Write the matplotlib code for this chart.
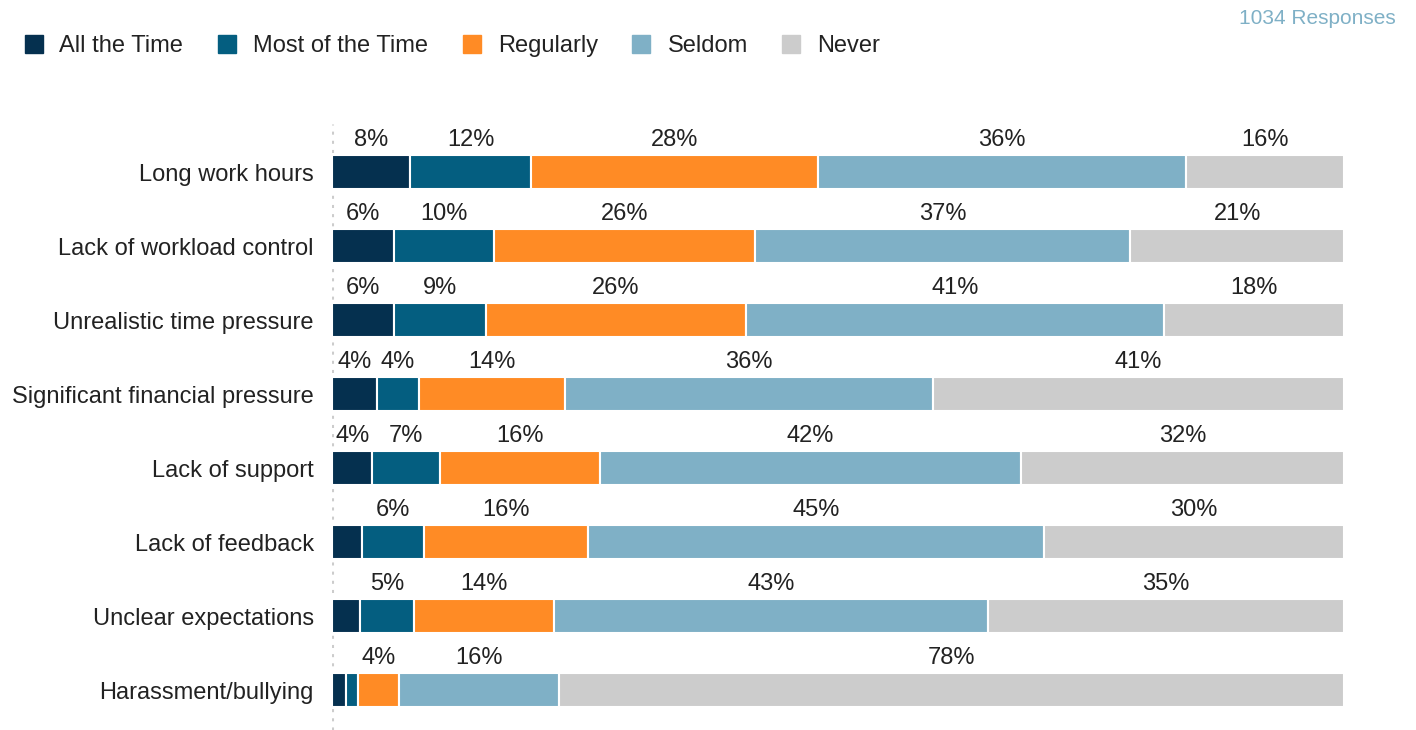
import numpy as np
import matplotlib.pyplot as plt
from matplotlib.lines import Line2D

plt.rcParams['font.family'] = ['Liberation Sans', 'DejaVu Sans']

categories = ['Long work hours', 'Lack of workload control', 'Unrealistic time pressure',
              'Significant financial pressure', 'Lack of support', 'Lack of feedback',
              'Unclear expectations', 'Harassment/bullying']
series = ['All the Time', 'Most of the Time', 'Regularly', 'Seldom', 'Never']
all_time = [7.7, 6.1, 6.1, 4.4, 4.0, 3.0, 2.8, 1.4]
most_time = [12.0, 9.9, 9.1, 4.2, 6.7, 6.1, 5.3, 1.2]
regularly = [28.3, 25.8, 25.7, 14.4, 15.8, 16.2, 13.8, 4.0]
seldom = [36.4, 37.1, 41.3, 36.4, 41.6, 45.1, 42.9, 15.8]
never = [15.6, 21.1, 17.8, 40.6, 31.9, 29.6, 35.2, 77.6]
colors = ['#05304f', '#045e80', '#ff8b25', '#7fb0c6', '#cccccc']
responses = '1034 Responses'

data = np.array([all_time, most_time, regularly, seldom, never])

fig = plt.figure(figsize=(14.16, 7.3), dpi=100)
ax = fig.add_axes([332/1416, 0, 1012/1416, (730-124)/730])

y = np.arange(len(categories))
left = np.zeros(len(categories))
for k in range(len(series)):
    ax.barh(y, data[k], left=left, height=0.45, color=colors[k],
            edgecolor='white', linewidth=1.5)
    for i in range(len(categories)):
        v = data[k][i]
        if v >= 3.5:
            ax.text(left[i] + v/2, y[i] - 0.43, f'{round(v)}%', ha='center', va='center',
                    fontsize=17, color='#222222')
    left = left + data[k]

ax.set_xlim(0, 100)
ax.set_ylim(7.54, -0.65)
ax.set_yticks(y)
ax.set_yticklabels(categories, fontsize=17, color='#222222')
ax.tick_params(axis='y', length=0, pad=13)
ax.set_xticks([])
for s in ax.spines.values():
    s.set_visible(False)
ax.axvline(0, color='#cccccc', linewidth=2.2, linestyle=(0, (1, 2)), zorder=0)

handles = [Line2D([], [], marker='s', linestyle='none', markersize=13,
                  markerfacecolor=c, markeredgecolor=c) for c in colors]
fig.legend(handles, series, loc='center left', bbox_to_anchor=(0.002, 1 - 46/730), ncol=5,
           frameon=False, fontsize=17, handlelength=0.8, handletextpad=0.7,
           columnspacing=1.45, labelcolor='#222222')
fig.text(0.986, 1 - 18/730, responses, ha='right', va='center', fontsize=15, color='#7fb0c6')

fig.savefig('out.png', dpi=100)
